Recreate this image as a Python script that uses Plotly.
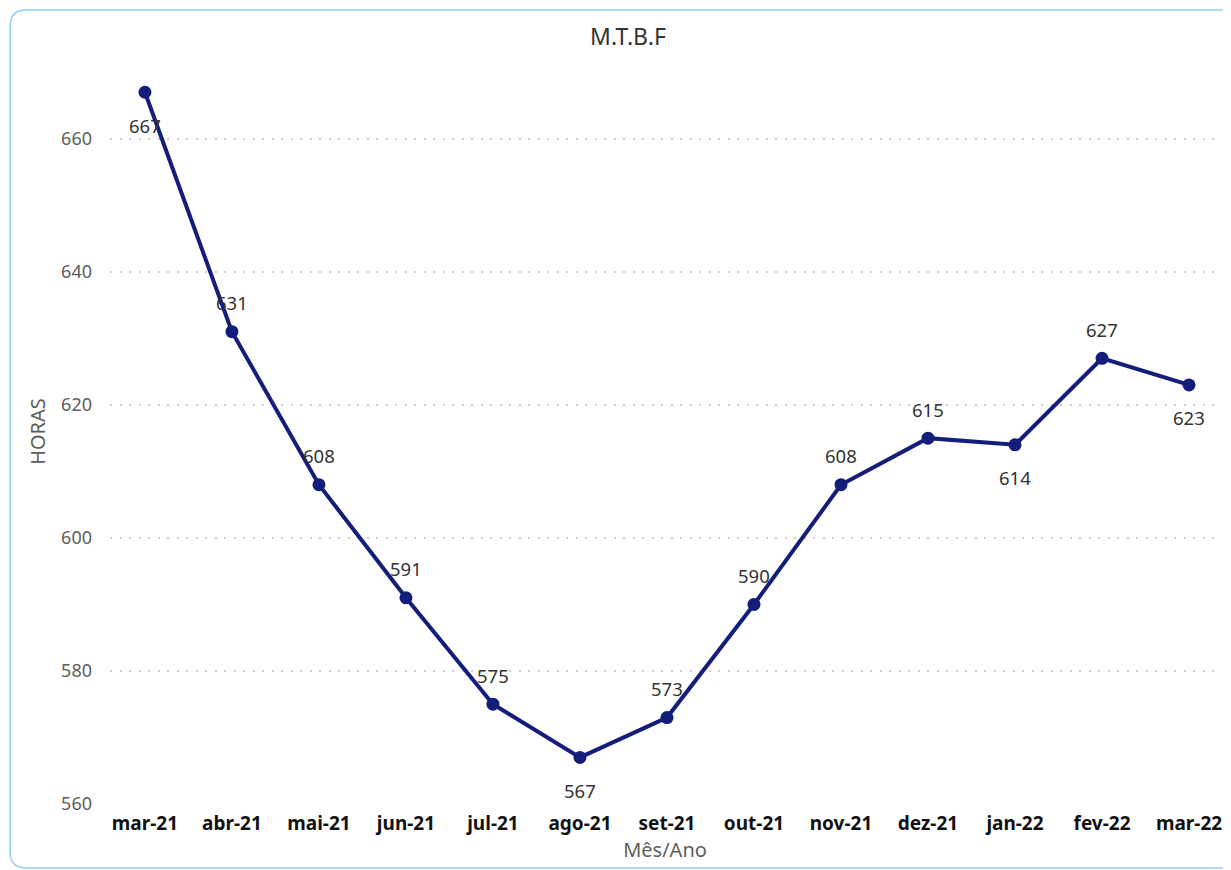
import plotly.graph_objects as go

months = ["mar-21", "abr-21", "mai-21", "jun-21", "jul-21", "ago-21", "set-21",
          "out-21", "nov-21", "dez-21", "jan-22", "fev-22", "mar-22"]
mtbf = [667, 631, 608, 591, 575, 567, 573, 590, 608, 615, 614, 627, 623]
label_above = [False, True, True, True, True, False, True, True, True, True, False, True, False]
y_ticks = [560, 580, 600, 620, 640, 660]

FONT = "Noto Sans, Open Sans, sans-serif"
# page body has an 8px margin, so figure coords = screen - 8
W, H = 1223, 862
L, R_px, T, B_px = 102, 1214, 51, 796

fig = go.Figure()
fig.add_trace(go.Scatter(
    x=months, y=mtbf, mode="lines+markers",
    line=dict(color="#141d7a", width=4),
    marker=dict(color="#141d7a", size=13),
    cliponaxis=False, hoverinfo="x+y",
))

annotations = []
for m, v, up in zip(months, mtbf, label_above):
    annotations.append(dict(
        x=m, y=v, xref="x", yref="y", text=str(v), showarrow=False,
        yanchor="middle", xanchor="center", yshift=29 if up else -33,
        font=dict(family=FONT, size=18.5, color="#333333"),
    ))

def px2p(x, y):
    return (x - L) / (R_px - L), (B_px - y) / (B_px - T)

def P(x, y):
    px_, py_ = px2p(x, y)
    return f"{px_:.5f},{py_:.5f}"

x0, y0, x1, y1, r = 2, 2, 1237, 860, 16
path = (f"M {P(x0 + r, y0)} L {P(x1 - r, y0)} Q {P(x1, y0)} {P(x1, y0 + r)} "
        f"L {P(x1, y1 - r)} Q {P(x1, y1)} {P(x1 - r, y1)} "
        f"L {P(x0 + r, y1)} Q {P(x0, y1)} {P(x0, y1 - r)} "
        f"L {P(x0, y0 + r)} Q {P(x0, y0)} {P(x0 + r, y0)} Z")

fig.update_layout(
    width=W, height=H,
    margin=dict(l=L, r=W - R_px, t=T, b=H - B_px, pad=0),
    paper_bgcolor="white", plot_bgcolor="white",
    showlegend=False,
    title=dict(text="M.T.B.F", x=620 / W, xanchor="center", y=1 - 29 / H, yanchor="middle",
               font=dict(family=FONT, size=23, color="#333333")),
    font=dict(family=FONT),
    annotations=annotations,
    shapes=[dict(type="path", xref="paper", yref="paper", path=path,
                 line=dict(color="#98cdf8", width=1.5), fillcolor="rgba(0,0,0,0)", layer="below")],
)
fig.update_xaxes(
    type="category", range=[-0.4015, 12.356],
    showgrid=False, zeroline=False, showline=False, ticks="",
    ticklabelstandoff=6,
    tickfont=dict(family=FONT, size=19, color="#111111", weight="bold"),
    title=dict(text="Mês/Ano", standoff=2,
               font=dict(family=FONT, size=20, color="#605e5c")),
)
fig.update_yaxes(
    range=[560, 672], tickvals=y_ticks, ticktext=[str(v) for v in y_ticks],
    showgrid=True, gridcolor="#cfcfcf", griddash="2px,7.5px", gridwidth=1.5,
    zeroline=False, showline=False, ticks="", ticklabelstandoff=17,
    tickfont=dict(family=FONT, size=18, color="#605e5c"),
    title=dict(text="HORAS", standoff=10,
               font=dict(family=FONT, size=20, color="#605e5c")),
)

fig.write_html("out.html")
